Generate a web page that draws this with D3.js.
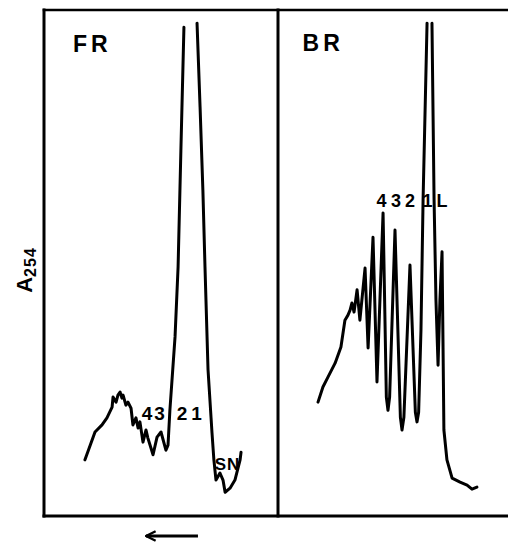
<!DOCTYPE html>
<html lang="en">

  <head>
    <meta charset="UTF-8">
    <title>A254 profiles FR / BR</title>
    <script src="https://d3js.org/d3.v7.min.js"></script>
  </head>

  <style>
    body {
      margin: 0;
      background: white;
    }
    text {
      font-family: "Liberation Sans", Arial, sans-serif;
      font-weight: bold;
      fill: black;
    }
  </style>

  <body>
    <script>
      // position along the gradient (0-100 per panel) and A254 (0-1 of full scale)
      // null = pen off scale at the top of the big peak
      var frPos = [17.5, 21.8, 24.8, 26.9, 29.1, 29.5, 30.8, 31.6, 32.5, 33.3,
        33.8, 35.0, 35.9, 37.2, 38.0, 39.3, 40.2, 41.0, 42.3, 43.6,
        44.4, 46.6, 48.3, 50.0, 52.1, 53.0, 53.8, 56.0, 57.3, 58.5,
        59.8, 62.6, 65.4, 66.7, 67.9, 68.8, 70.1, 71.8, 72.6, 73.5,
        75.2, 76.5, 77.4, 79.5, 81.6, 83.8, 84.2];
      var frA254 = [0.111, 0.166, 0.180, 0.194, 0.215, 0.235, 0.225, 0.239, 0.245, 0.233,
        0.239, 0.219, 0.225, 0.213, 0.180, 0.194, 0.174, 0.186, 0.146, 0.170,
        0.154, 0.121, 0.156, 0.166, 0.130, 0.140, 0.209, 0.354, 0.492, 0.723,
        0.966, null, 0.974, 0.808, 0.644, 0.492, 0.289, 0.164, 0.111, 0.071,
        0.085, 0.071, 0.047, 0.055, 0.071, 0.111, 0.126];

      var brPos = [17.1, 19.2, 21.4, 24.4, 26.9, 28.6, 29.9, 30.8, 31.6, 32.5,
        33.8, 35.0, 37.2, 38.5, 40.6, 42.3, 44.9, 46.3, 47.0, 47.7,
        50.0, 52.3, 53.0, 53.8, 56.4, 58.7, 59.4, 60.1, 61.1, 62.0,
        63.7, 64.7, 65.8, 66.7, 67.5, 68.4, 69.2, 70.1, 70.5, 70.9,
        72.2, 74.4, 77.8, 80.8, 82.9, 85.0];
      var brA254 = [0.225, 0.255, 0.275, 0.302, 0.334, 0.387, 0.397, 0.407, 0.421, 0.403,
        0.447, 0.387, 0.490, 0.332, 0.551, 0.265, 0.599, 0.235, 0.209, 0.235,
        0.565, 0.195, 0.170, 0.195, 0.496, 0.205, 0.186, 0.205, 0.368, 0.625,
        0.974, null, 0.974, 0.625, 0.427, 0.298, 0.427, 0.522, 0.348, 0.170,
        0.111, 0.075, 0.067, 0.061, 0.053, 0.057];

      // peak labels
      var frLabels = ["4", "3", "2", "1"];
      var frLabelPos = [44.0, 49.4, 59.0, 65.2];
      var frLabelA254 = 0.19;
      var snLabels = ["S", "N"];
      var snLabelPos = [75.4, 80.8];
      var snLabelA254 = 0.091;
      var brLabels = ["4", "3", "2", "1", "L"];
      var brLabelPos = [44.2, 50.4, 56.4, 63.9, 70.1];
      var brLabelA254 = 0.611;

      var width = 508;
      var height = 542;

      var svg = d3.select("body").append("svg")
        .attr("width", width)
        .attr("height", height);

      var y = d3.scaleLinear()
        .domain([0, 1])
        .range([516, 10]);

      var xFR = d3.scaleLinear()
        .domain([0, 100])
        .range([44, 278]);

      var xBR = d3.scaleLinear()
        .domain([0, 100])
        .range([278, 512]);

      // frame: box round both panels, open on the right
      var frame = svg.append("g")
        .attr("stroke", "black")
        .attr("stroke-width", 3)
        .attr("stroke-linecap", "square");

      frame.append("line")
        .attr("x1", xFR(0)).attr("x2", width)
        .attr("y1", y(1)).attr("y2", y(1))
        .attr("stroke-width", 2.5);
      frame.append("line")
        .attr("x1", xFR(0)).attr("x2", width)
        .attr("y1", y(0)).attr("y2", y(0));
      frame.append("line")
        .attr("x1", xFR(0)).attr("x2", xFR(0))
        .attr("y1", y(1)).attr("y2", y(0));
      frame.append("line")
        .attr("x1", xBR(0)).attr("x2", xBR(0))
        .attr("y1", y(1)).attr("y2", y(0));

      function drawTrace(pos, vals, x) {
        var pts = pos.map((p, i) => [p, vals[i]]);
        var line = d3.line()
          .defined(d => d[1] !== null)
          .x(d => x(d[0]))
          .y(d => y(d[1]));

        svg.append("path")
          .datum(pts)
          .attr("fill", "none")
          .attr("stroke", "black")
          .attr("stroke-width", 3)
          .attr("stroke-linejoin", "round")
          .attr("stroke-linecap", "round")
          .attr("d", line);
      }

      function drawLabels(labels, pos, val, x, size) {
        svg.append("g")
          .selectAll("text")
          .data(labels)
          .enter().append("text")
          .attr("x", (d, i) => x(pos[i]))
          .attr("y", y(val))
          .attr("text-anchor", "middle")
          .style("font-size", size + "px")
          .text(d => d);
      }

      drawTrace(frPos, frA254, xFR);
      drawTrace(brPos, brA254, xBR);

      drawLabels(frLabels, frLabelPos, frLabelA254, xFR, 19);
      drawLabels(snLabels, snLabelPos, snLabelA254, xFR, 17);
      drawLabels(brLabels, brLabelPos, brLabelA254, xBR, 18);

      // panel titles
      svg.append("text")
        .attr("x", xFR(12.4))
        .attr("y", 52)
        .style("font-size", "23px")
        .style("letter-spacing", "4px")
        .text("FR");

      svg.append("text")
        .attr("x", xBR(10.5))
        .attr("y", 51)
        .style("font-size", "23px")
        .style("letter-spacing", "4px")
        .text("BR");

      // y label, rotated
      var yLab = svg.append("text")
        .attr("transform", "translate(32,270) rotate(-90)")
        .attr("text-anchor", "middle")
        .style("font-size", "22px");
      yLab.append("tspan").text("A");
      yLab.append("tspan")
        .attr("dy", 4)
        .style("font-size", "16px")
        .style("letter-spacing", "1px")
        .text("254");

      // direction arrow under the FR panel
      svg.append("defs").append("marker")
        .attr("id", "head")
        .attr("viewBox", "0 0 10 10")
        .attr("refX", 9)
        .attr("refY", 5)
        .attr("markerWidth", 4)
        .attr("markerHeight", 4)
        .attr("orient", "auto")
        .append("path")
        .attr("d", "M1,1 L9,5 L1,9")
        .attr("fill", "none")
        .attr("stroke", "black")
        .attr("stroke-width", 2)
        .attr("stroke-linejoin", "miter");

      svg.append("line")
        .attr("x1", xFR(65.8)).attr("x2", xFR(43.6))
        .attr("y1", 536).attr("y2", 536)
        .attr("stroke", "black")
        .attr("stroke-width", 3)
        .attr("marker-end", "url(#head)");
    </script>
  </body>

</html>
